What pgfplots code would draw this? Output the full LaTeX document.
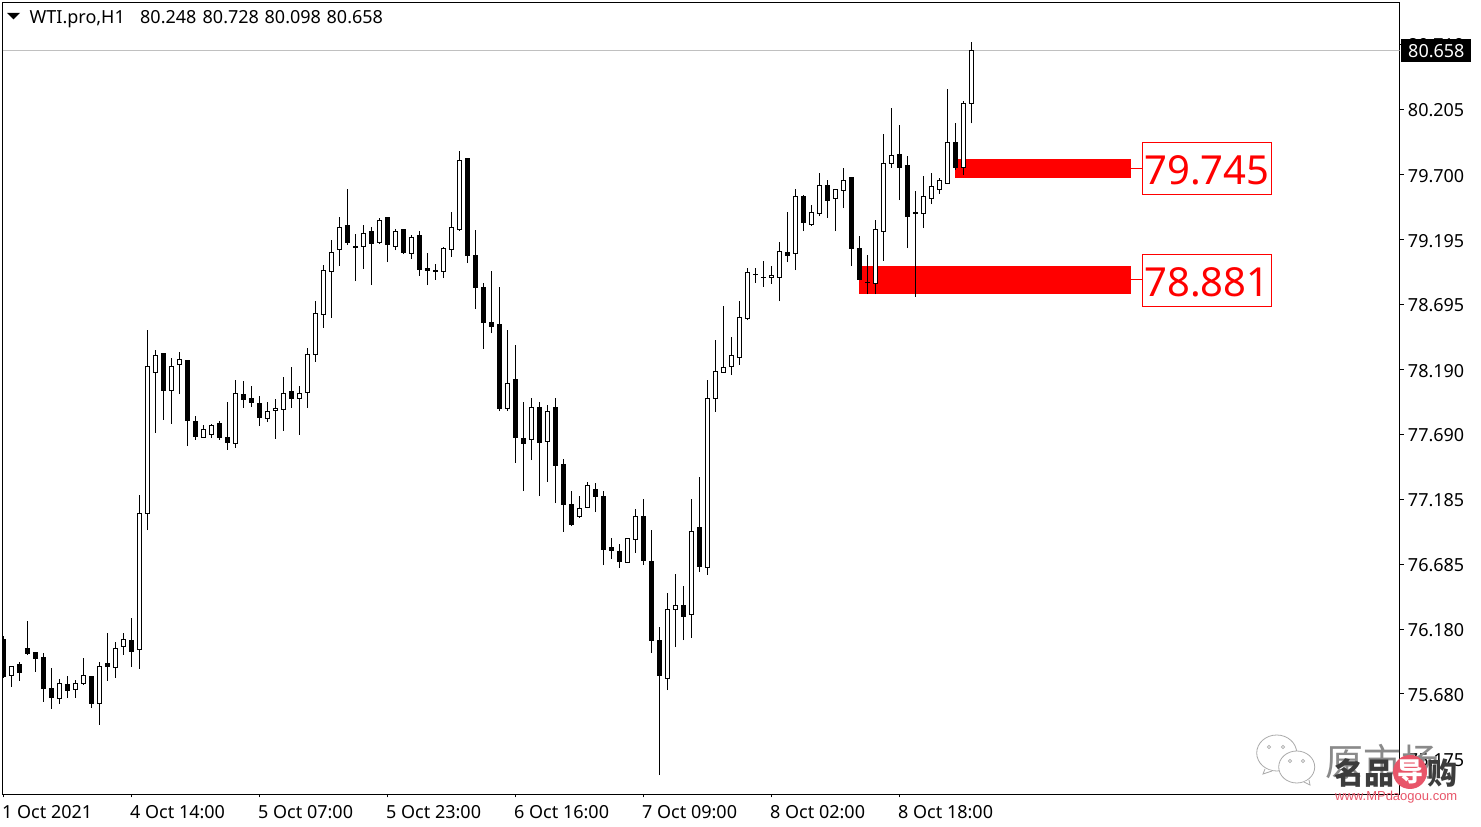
\documentclass[border=0pt]{standalone}
\usepackage{pgfplots}
\usepackage{pgfplotstable}
\pgfplotsset{compat=1.18}
\usepackage{fontspec}
\setmainfont{Noto Sans}
\newfontfamily\cjk{Noto Sans CJK SC}
\newfontfamily\lib{Liberation Sans}
\definecolor{lvl}{RGB}{192,192,192}
\definecolor{wm}{RGB}{60,60,60}
\definecolor{wmred}{RGB}{232,85,105}
\definecolor{bub}{RGB}{170,170,170}
\pgfplotstableread{
i o h l c
0 76.105 76.128 75.805 75.813
1 75.821 75.896 75.736 75.894
2 75.911 75.927 75.782 75.844
3 76.028 76.244 75.984 75.989
4 76.004 76.004 75.852 75.953
5 75.958 75.997 75.620 75.720
6 75.718 75.881 75.565 75.651
7 75.643 75.795 75.604 75.757
8 75.749 75.819 75.651 75.705
9 75.713 75.788 75.651 75.757
10 75.759 75.958 75.751 75.824
11 75.811 75.819 75.573 75.604
12 75.604 75.927 75.442 75.896
13 75.919 76.152 75.782 75.891
14 75.883 76.082 75.805 76.035
15 76.045 76.152 75.984 76.105
16 76.097 76.268 75.891 76.012
17 76.022 77.220 75.875 77.073
18 77.078 78.498 76.949 78.217
19 78.170 78.343 77.702 78.302
20 78.312 78.312 77.801 78.028
21 78.031 78.281 77.770 78.217
22 78.232 78.327 78.002 78.271
23 78.258 78.258 77.599 77.795
24 77.793 77.832 77.646 77.671
25 77.667 77.762 77.664 77.729
26 77.690 77.770 77.661 77.760
27 77.770 77.793 77.646 77.664
28 77.669 77.940 77.569 77.625
29 77.620 78.111 77.584 78.007
30 78.002 78.103 77.894 77.958
31 77.971 78.064 77.901 77.940
32 77.932 77.987 77.754 77.824
33 77.814 77.940 77.785 77.868
34 77.876 77.963 77.654 77.891
35 77.884 78.134 77.716 78.007
36 78.018 78.211 77.894 77.971
37 77.969 78.064 77.685 78.007
38 78.015 78.358 77.894 78.310
39 78.310 78.722 78.250 78.627
40 78.619 79.001 78.515 78.960
41 78.952 79.195 78.593 79.099
42 79.122 79.373 78.993 79.293
43 79.303 79.589 79.158 79.174
44 79.148 79.241 78.877 79.135
45 79.143 79.311 78.970 79.246
46 79.264 79.295 78.846 79.166
47 79.174 79.365 79.166 79.349
48 79.365 79.373 79.024 79.158
49 79.143 79.280 79.117 79.264
50 79.272 79.272 79.086 79.094
51 79.088 79.233 79.047 79.210
52 79.226 79.264 78.916 78.965
53 78.970 79.094 78.846 78.957
54 78.962 79.009 78.885 78.949
55 78.949 79.140 78.900 79.125
56 79.119 79.411 79.063 79.293
57 79.274 79.884 79.267 79.812
58 79.822 79.822 79.016 79.073
59 79.071 79.272 78.660 78.825
60 78.823 78.862 78.351 78.554
61 78.552 78.955 78.474 78.521
62 78.544 78.831 77.870 77.886
63 77.886 78.498 77.870 78.080
64 78.118 78.382 77.468 77.664
65 77.661 77.940 77.251 77.615
66 77.648 77.971 77.491 77.901
67 77.894 77.940 77.212 77.623
68 77.633 77.917 77.321 77.870
69 77.894 77.971 77.158 77.445
70 77.460 77.499 76.934 77.143
71 77.143 77.251 76.980 76.988
72 77.050 77.212 77.042 77.119
73 77.122 77.321 77.119 77.290
74 77.259 77.313 77.088 77.212
75 77.212 77.251 76.678 76.797
76 76.810 76.887 76.725 76.794
77 76.786 76.841 76.655 76.709
78 76.701 76.887 76.694 76.887
79 76.874 77.112 76.771 77.057
80 77.050 77.189 76.678 76.711
81 76.709 76.949 75.997 76.090
82 76.090 76.198 75.052 75.819
83 75.803 76.461 75.710 76.337
84 76.337 76.608 76.043 76.361
85 76.361 76.515 76.097 76.283
86 76.291 77.189 76.113 76.941
87 76.972 77.359 76.624 76.663
88 76.655 78.111 76.601 77.971
89 77.971 78.420 77.863 78.180
90 78.172 78.683 78.165 78.211
91 78.213 78.443 78.149 78.304
92 78.283 78.722 78.227 78.591
93 78.585 78.978 78.575 78.939
94 78.931 78.978 78.862 78.926
95 78.908 79.032 78.831 78.903
96 78.903 78.993 78.854 78.923
97 78.903 79.179 78.722 79.102
98 79.094 79.411 79.024 79.071
99 79.088 79.589 78.962 79.535
100 79.535 79.543 79.264 79.328
101 79.311 79.466 79.303 79.404
102 79.396 79.713 79.380 79.613
103 79.613 79.659 79.365 79.504
104 79.512 79.589 79.264 79.582
105 79.576 79.752 79.442 79.659
106 79.675 79.682 78.993 79.127
107 79.125 79.226 78.892 78.892
108 78.869 79.078 78.776 78.864
109 78.856 79.349 78.776 79.272
110 79.259 80.015 79.032 79.783
111 79.785 80.217 79.752 79.845
112 79.853 80.085 79.504 79.752
113 79.775 79.845 79.132 79.380
114 79.411 79.574 78.757 79.396
115 79.398 79.690 79.287 79.535
116 79.514 79.713 79.473 79.605
117 79.584 79.675 79.551 79.659
118 79.630 80.364 79.628 79.953
119 79.946 80.100 79.737 79.752
120 79.754 80.271 79.698 80.255
121 80.248 80.728 80.098 80.658
}\candles
\begin{document}
\fontsize{18}{20}\selectfont
\begin{tikzpicture}
\path[use as bounding box,fill=white] (0pt,0pt) rectangle (1481pt,827pt);
\begin{axis}[
  at={(2.5pt,32.5pt)},anchor=south west,
  scale only axis,width=1397pt,height=792pt,
  xmin=-0.125,xmax=174.5,
  ymin=74.9011,ymax=81.0335,
  axis line style={line width=1pt,black},
  tick style={line width=1pt,black},
  xtick={0,16,32,48,64,80,96,112},
  xticklabels={1 Oct 2021,4 Oct 14:00,5 Oct 07:00,5 Oct 23:00,6 Oct 16:00,7 Oct 09:00,8 Oct 02:00,8 Oct 18:00},
  xtick pos=bottom,
  ytick pos=right,
  yticklabel pos=right,
  tick align=outside,
  x tick style={/pgfplots/major tick length=3pt},
  y tick style={/pgfplots/major tick length=4pt},
  ytick={80.710,80.205,79.700,79.195,78.695,78.190,77.690,77.185,76.685,76.180,75.680,75.175},
  yticklabels={80.710,80.205,79.700,79.195,78.695,78.190,77.690,77.185,76.685,76.180,75.680,75.175},
  xticklabel style={anchor=north west,inner sep=0pt,xshift=-1.5pt,yshift=-6pt,font=\fontsize{18}{20}\selectfont},
  yticklabel style={anchor=west,inner sep=0pt,xshift=4pt,yshift=-1pt,font=\fontsize{18}{20}\selectfont},
]
\addplot[lvl,line width=1pt,forget plot] coordinates {(-0.125,80.658) (174.5,80.658)};
\addplot[fill=red,draw=none,forget plot] coordinates {(118.94,79.8217) (140.94,79.8217) (140.94,79.6769) (118.94,79.6769)} --cycle;
\addplot[fill=red,draw=none,forget plot] coordinates {(106.94,78.9932) (140.94,78.9932) (140.94,78.7764) (106.94,78.7764)} --cycle;
\pgfplotsinvokeforeach{0,...,121}{
  \pgfplotstablegetelem{#1}{o}\of\candles \let\candO\pgfplotsretval
  \pgfplotstablegetelem{#1}{h}\of\candles \let\candH\pgfplotsretval
  \pgfplotstablegetelem{#1}{l}\of\candles \let\candL\pgfplotsretval
  \pgfplotstablegetelem{#1}{c}\of\candles \let\candC\pgfplotsretval
  \ifdim\candC pt<\candO pt \def\candF{black}\else \def\candF{white}\fi
  \pgfmathsetmacro\candA{#1-0.25}
  \pgfmathsetmacro\candB{#1+0.25}
  \edef\candDo{%
    \noexpand\addplot[draw=black,line width=1pt,forget plot] coordinates {(#1,\candL) (#1,\candH)};%
    \noexpand\addplot[draw=black,fill=\candF,line width=1pt,forget plot] coordinates {(\candA,\candO) (\candB,\candO) (\candB,\candC) (\candA,\candC)} --cycle;%
  }
  \candDo
}
\end{axis}
\begin{scope}[x=1pt,y=1pt]
% title line
\fill[black] (7,814) -- (20,814) -- (13.5,807.5) -- cycle;
\node[anchor=base west,inner sep=0pt] at (29.5,803.5) {WTI.pro,H1};
\node[anchor=base west,inner sep=0pt] at (140,803.5) {80.248};
\node[anchor=base west,inner sep=0pt] at (202.5,803.5) {80.728};
\node[anchor=base west,inner sep=0pt] at (264.5,803.5) {80.098};
\node[anchor=base west,inner sep=0pt] at (326.5,803.5) {80.658};
% current price
\fill[black] (1401,827-39) rectangle (1471,827-61.7);
\node[anchor=west,inner sep=0pt,text=white] at (1408,827-51) {80.658};
% level labels
\draw[red,line width=1pt] (1131,827-168.3) -- (1142.3,827-168.3);
\draw[red,line width=1pt] (1131,827-280) -- (1142.3,827-280);
\draw[red,line width=1pt] (1142.3,827-142.3) rectangle (1271.7,827-194.3);
\draw[red,line width=1pt] (1142.3,827-254.3) rectangle (1271.7,827-306.3);
\node[text=red,inner sep=0pt,font=\fontsize{40}{44}\selectfont] at (1207,827-170) {79.745};
\node[text=red,inner sep=0pt,font=\fontsize{40}{44}\selectfont] at (1207,827-282) {78.881};
% watermark
\draw[bub,line width=0.8pt,fill=white] (1276.7,827-753) ellipse (20 and 18);
\draw[bub,line width=0.8pt,fill=white] (1265,827-769) -- (1263,827-774) -- (1272,827-771);
\draw[bub,line width=0.8pt,fill=white] (1296.7,827-767) ellipse (18 and 16);
\draw[bub,line width=0.8pt,fill=white] (1304,827-782) -- (1310,827-785) -- (1309,827-780);
\foreach \bx/\by in {1269/747,1283/747,1290/761,1303/761}
  \draw[bub,line width=0.7pt] (\bx,827-\by) circle (1.7);
\node[anchor=west,inner sep=0pt,text=wm!60,font=\cjk\fontsize{38}{40}\selectfont] at (1325,827-762) {原市场};
\node[anchor=west,inner sep=0pt,text=wm,font=\cjk\bfseries\fontsize{30}{32}\selectfont] at (1334,827-773) {名品};
\fill[wmred] (1410,827-772) circle (17);
\node[inner sep=0pt,text=white,font=\cjk\bfseries\fontsize{26}{28}\selectfont] at (1410,827-772) {导};
\node[anchor=west,inner sep=0pt,text=wm,font=\cjk\bfseries\fontsize{30}{32}\selectfont] at (1427,827-773) {购};
\node[anchor=west,inner sep=0pt,text=wmred,font=\lib\fontsize{13}{15}\selectfont] at (1335,827-797.5) {www.MPdaogou.com};
\end{scope}
\end{tikzpicture}
\end{document}
